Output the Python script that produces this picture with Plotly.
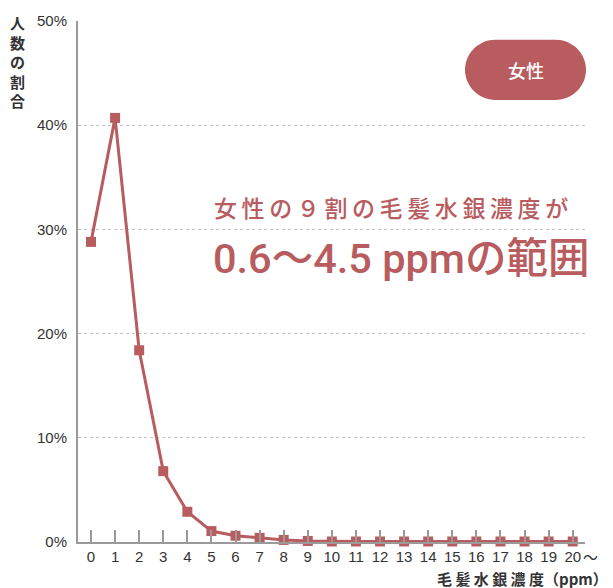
import plotly.graph_objects as go

# Hair mercury concentration (ppm) bins and share of women in each bin (%)
categories = ["0", "1", "2", "3", "4", "5", "6", "7", "8", "9", "10",
              "11", "12", "13", "14", "15", "16", "17", "18", "19", "20〜"]
share_pct = [28.8, 40.7, 18.4, 6.8, 2.9, 1.05, 0.6, 0.4, 0.2, 0.1, 0.05,
             0.05, 0.05, 0.05, 0.05, 0.05, 0.05, 0.05, 0.05, 0.05, 0.05]
y_ticks = [0, 10, 20, 30, 40, 50]

ACCENT = "rgb(184,92,96)"
GRID = "#c4c4c4"
AXIS = "#9a9a9a"
TEXT = "#333333"
LATIN = "Liberation Sans, Noto Sans CJK JP, sans-serif"
HEAD = "Roboto, Noto Sans CJK JP, sans-serif"
CJK = "Noto Sans CJK JP, sans-serif"

W, H = 613, 588
L, R, T, B = 78, 28, 14, 46
PW, PH = W - L - R, H - T - B


def px_x(p):
    return (p - L) / PW


def px_y(p):
    return (H - B - p) / PH


x_idx = list(range(len(categories)))
# the open-ended last bin keeps its number centred on the tick; its "〜" trails it
tick_text = [c.rstrip("〜") for c in categories]
open_suffix = categories[-1][len(tick_text[-1]):]
y_text = [f"{v}%" for v in y_ticks]

fig = go.Figure()
fig.add_trace(go.Scatter(
    x=x_idx, y=share_pct, mode="lines+markers",
    line=dict(color=ACCENT, width=3),
    marker=dict(symbol="square", size=10, color=ACCENT),
    hoverinfo="skip", cliponaxis=False,
))

# rounded "女性" badge
bx0, bx1, by0, by1 = 465, 586, 33, 94
r = (by1 - by0) / 2
k = 0.5523 * r
pts = [
    ("M", [(bx0 + r, by0)]),
    ("L", [(bx1 - r, by0)]),
    ("C", [(bx1 - r + k, by0), (bx1, by0 + r - k), (bx1, by0 + r)]),
    ("C", [(bx1, by0 + r + k), (bx1 - r + k, by1), (bx1 - r, by1)]),
    ("L", [(bx0 + r, by1)]),
    ("C", [(bx0 + r - k, by1), (bx0, by1 - r + k), (bx0, by1 - r)]),
    ("C", [(bx0, by0 + r - k), (bx0 + r - k, by0), (bx0 + r, by0)]),
]
path = " ".join(cmd + " " + " ".join(f"{px_x(a):.5f},{px_y(b):.5f}" for a, b in p)
                for cmd, p in pts) + " Z"
fig.add_shape(type="path", path=path, xref="paper", yref="paper",
              fillcolor=ACCENT, line=dict(width=0), layer="above")

TS = "\u2009"
annotations = [
    dict(text="女性", x=px_x((bx0 + bx1) / 2), y=px_y((by0 + by1) / 2),
         xanchor="center", yanchor="middle",
         font=dict(family=CJK, size=18, color="white", weight=500)),
    dict(text=TS.join("女性の９割の毛髪水銀濃度が"),
         x=px_x(212), y=px_y(202), xanchor="left", yanchor="middle",
         font=dict(family=CJK, size=23, color=ACCENT, weight=500)),
    dict(text="0.6〜4.5 ppmの範囲", x=px_x(211), y=px_y(255),
         xanchor="left", yanchor="middle",
         font=dict(family=HEAD, size=41.5, color=ACCENT, weight=500)),
    dict(text="人<br>数<br>の<br>割<br>合", x=px_x(17), y=px_y(3),
         xanchor="center", yanchor="top",
         font=dict(family=CJK, size=15, color=TEXT, weight="bold")),
    dict(text="毛 髪 水 銀 濃 度（ppm）", x=px_x(610), y=px_y(579),
         xanchor="right", yanchor="middle",
         font=dict(family=CJK, size=15, color=TEXT, weight="bold")),
    dict(text=open_suffix, x=px_x(581), y=px_y(557),
         xanchor="left", yanchor="middle",
         font=dict(family=CJK, size=15, color=TEXT)),
]
for a in annotations:
    a.update(xref="paper", yref="paper", showarrow=False)

fig.update_layout(
    width=W, height=H,
    margin=dict(l=L, r=R, t=T, b=B),
    paper_bgcolor="white", plot_bgcolor="white",
    showlegend=False,
    annotations=annotations,
    xaxis=dict(
        range=[-0.54, 20.51], tickmode="array", tickvals=x_idx, ticktext=tick_text,
        tickangle=0,
        showgrid=False, zeroline=False,
        showline=True, linecolor=AXIS, linewidth=2,
        ticks="inside", ticklen=12, tickwidth=1.5, tickcolor=AXIS,
        tickfont=dict(family=LATIN, size=15, color=TEXT),
        fixedrange=True,
    ),
    yaxis=dict(
        range=[0, 50], tickmode="array", tickvals=y_ticks, ticktext=y_text,
        showgrid=True, gridcolor=GRID, gridwidth=1, griddash="3px,3px",
        zeroline=False, showline=True, linecolor=AXIS, linewidth=2,
        ticks="", ticklabelstandoff=6,
        tickfont=dict(family=LATIN, size=15, color=TEXT),
        fixedrange=True,
    ),
)

fig.write_html("out.html")
